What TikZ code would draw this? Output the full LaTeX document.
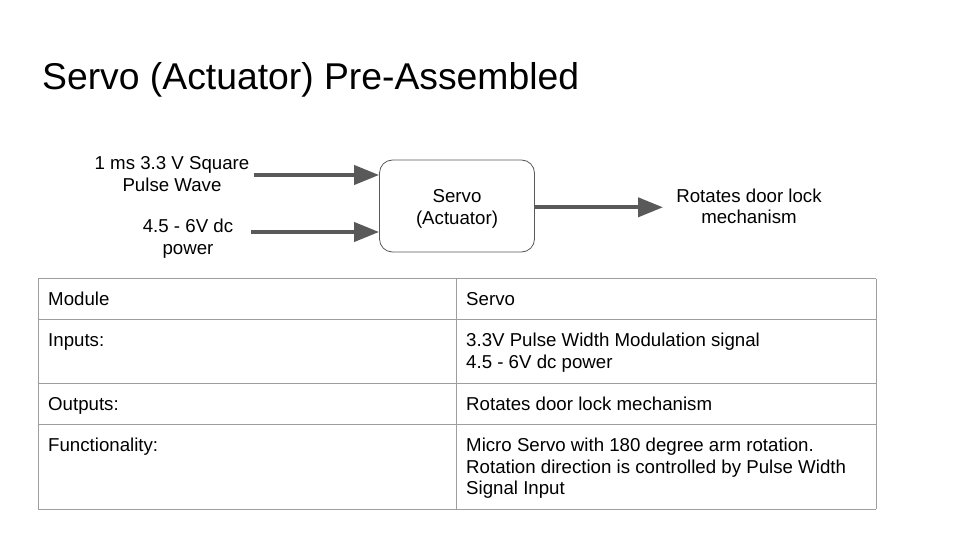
\documentclass[tikz,border=0pt]{standalone}
\usepackage{fontspec}
\setmainfont{Liberation Sans}
\usetikzlibrary{positioning,arrows.meta}
\definecolor{sigGray}{RGB}{89,89,89}
\definecolor{ruleGray}{RGB}{158,158,158}
\newcommand{\cstack}[1]{\begin{tabular}[t]{@{}c@{}}#1\end{tabular}}
\newcommand{\lstack}[1]{\begin{tabular}[t]{@{}l@{}}#1\end{tabular}}
\tikzset{
  lbl/.style={font=\fontsize{18.67}{21.6}\selectfont,inner sep=0pt,anchor=base},
  cell/.style={font=\fontsize{18.67}{21.6}\selectfont,inner sep=0pt,anchor=base west},
  sig/.style={sigGray,line width=4pt,-{Triangle[length=25pt,width=19pt]}},
  modbox/.style={draw=sigGray,line width=0.8pt,rounded corners=13pt,minimum width=155pt,minimum height=92pt,inner sep=0pt},
  rule/.style={ruleGray,line width=1pt}
}

\begin{document}
\begin{tikzpicture}[x=1pt,y=-1pt]
\useasboundingbox[fill=white] (0,0) rectangle (960,540);
\node[font=\fontsize{37.3}{44}\selectfont,anchor=base west,inner sep=0pt] (title) at (42,90) {Servo (Actuator) Pre-Assembled};
% block diagram
\node[modbox] (servo) at (457,206) {};
\node[lbl] (servotxt) at (457,202.5) {\cstack{Servo\\(Actuator)}};
\node[lbl] (pwm) at (172,170) {\cstack{1 ms 3.3 V Square\\Pulse Wave}};
\node[lbl] (pwr) at (188,232.5) {\cstack{4.5 - 6V dc\\power}};
\node[lbl] (rot) at (749,202) {\cstack{Rotates door lock\\mechanism}};
\coordinate (pwmend) at (254,175);
\coordinate (pwrend) at (251,232);
\coordinate (rotend) at (663,207.3);
\draw[sig] (pwmend) -- (pwmend -| servo.west);
\draw[sig] (pwrend) -- (pwrend -| servo.west);
\draw[sig] (servo.east |- rotend) -- (rotend);
% table
\foreach \y in {278.5,319.5,383,424.5,509}
  \draw[rule] (38,\y) -- (876,\y);
\foreach \x in {38,456.5,876}
  \draw[rule] (\x,278.5) -- (\x,509);
\foreach \t/\y [count=\i] in {Module/305.5,Inputs:/346.5,Outputs:/410,Functionality:/451.5}
  \node[cell] (key\i) at (48,\y) {\t};
\foreach \t/\y [count=\i] in {
  {Servo}/305.5,
  {3.3V Pulse Width Modulation signal\\4.5 - 6V dc power}/346.5,
  {Rotates door lock mechanism}/410,
  {Micro Servo with 180 degree arm rotation.\\Rotation direction is controlled by Pulse Width\\Signal Input}/451.5}
  \node[cell] (val\i) at (466,\y) {\lstack{\t}};
\end{tikzpicture}
\end{document}
